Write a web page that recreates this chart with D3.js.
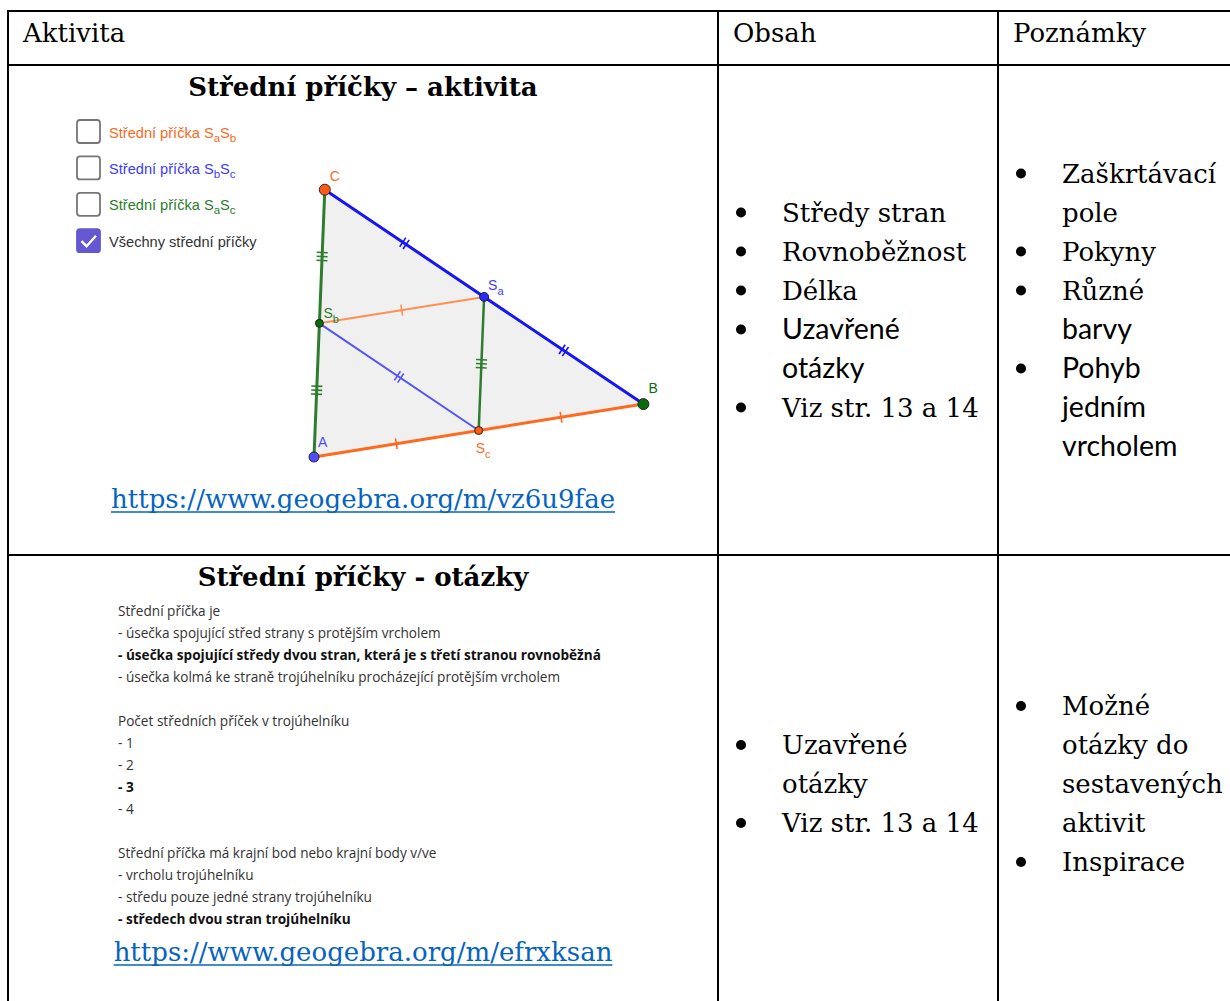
<!DOCTYPE html>
<html>
<head>
<meta charset="utf-8">
<script src="https://cdn.jsdelivr.net/npm/d3@7"></script>
<style>
html,body{margin:0;padding:0;background:#fff;}
svg{display:block;}
</style>
</head>
<body>
<svg id="c" width="1230" height="1001"></svg>
<script>
// ---------- data ----------
const headers = ["Aktivita", "Obsah", "Poznámky"];
const titles = ["Střední příčky – aktivita", "Střední příčky - otázky"];
const links = ["https://www.geogebra.org/m/vz6u9fae", "https://www.geogebra.org/m/efrxksan"];
// each item = list of [text, font] lines ; font s = serif, c = sans
const obsah1 = [
  [["Středy stran","s"]],
  [["Rovnoběžnost","s"]],
  [["Délka","s"]],
  [["Uzavřené","c"],["otázky","c"]],
  [["Viz str. 13 a 14","s"]]
];
const poznamky1 = [
  [["Zaškrtávací","s"],["pole","s"]],
  [["Pokyny","s"]],
  [["Různé","s"],["barvy","c"]],
  [["Pohyb","c"],["jedním","c"],["vrcholem","c"]]
];
const obsah2 = [
  [["Uzavřené","s"],["otázky","s"]],
  [["Viz str. 13 a 14","s"]]
];
const poznamky2 = [
  [["Možné","s"],["otázky do","s"],["sestavených","s"],["aktivit","s"]],
  [["Inspirace","s"]]
];
const questionLines = [
  ["Střední příčka je", false],
  ["- úsečka spojující střed strany s protějším vrcholem", false],
  ["- úsečka spojující středy dvou stran, která je s třetí stranou rovnoběžná", true],
  ["- úsečka kolmá ke straně trojúhelníku procházející protějším vrcholem", false],
  ["", false],
  ["Počet středních příček v trojúhelníku", false],
  ["- 1", false],
  ["- 2", false],
  ["- 3", true],
  ["- 4", false],
  ["", false],
  ["Střední příčka má krajní bod nebo krajní body v/ve", false],
  ["- vrcholu trojúhelníku", false],
  ["- středu pouze jedné strany trojúhelníku", false],
  ["- středech dvou stran trojúhelníku", true]
];
const checkboxLabels = ["Střední příčka S_aS_b", "Střední příčka S_bS_c", "Střední příčka S_aS_c", "Všechny střední příčky"];
const checkboxChecked = [false, false, false, true];
const checkboxColors = ["#f76a25", "#3b3bff", "#2b7d2b", "#333333"];
// triangle vertices in figure units
const vertices = {A: [0, 0], B: [6.1, 0.98], C: [0.2, 4.95]};

// ---------- layout ----------
const svg = d3.select("#c");
const serif = "'DejaVu Serif', serif";
const sans = "Lato, 'Open Sans', sans-serif";
const colX = [8, 718, 998, 1245];
const rowY = [11, 65, 555, 1013];
const LH = 39;

// table lines
const g = svg.append("g");
rowY.slice(0,3).forEach(y => g.append("line").attr("x1", colX[0]-1).attr("x2", colX[3]).attr("y1", y).attr("y2", y)
  .attr("stroke", "#000").attr("stroke-width", 2));
colX.slice(0,3).forEach(x => g.append("line").attr("x1", x).attr("x2", x).attr("y1", rowY[0]-1).attr("y2", rowY[3])
  .attr("stroke", "#000").attr("stroke-width", 2));

// headers
headers.forEach((h, i) => svg.append("text").attr("x", colX[i] + 15).attr("y", 42)
  .attr("font-family", serif).attr("font-size", 26).attr("fill", "#000").text(h));

// titles & links
const cx0 = (colX[0] + colX[1]) / 2;
[96, 586].forEach((y, i) => svg.append("text").attr("x", cx0).attr("y", y).attr("text-anchor", "middle")
  .attr("font-family", serif).attr("font-weight", "bold").attr("font-size", 26).attr("fill", "#000").text(titles[i]));
[508, 961].forEach((y, i) => {
  const t = svg.append("text").attr("x", cx0).attr("y", y).attr("text-anchor", "middle")
    .attr("font-family", serif).attr("font-size", 26).attr("fill", "#0563c1").text(links[i]);
  const w = t.node().getComputedTextLength();
  svg.append("line").attr("x1", cx0 - w/2).attr("x2", cx0 + w/2).attr("y1", y + 4).attr("y2", y + 4)
    .attr("stroke", "#0563c1").attr("stroke-width", 1.6);
});

// bullet lists
function bulletList(items, col, rowIdx) {
  const n = d3.sum(items, d => d.length);
  const center = (rowY[rowIdx] + rowY[rowIdx+1]) / 2;
  let y = center + 9 - (n - 1) * LH / 2;
  const bx = colX[col] + 23, tx = colX[col] + 64;
  items.forEach(item => {
    svg.append("circle").attr("cx", bx).attr("cy", y - 9).attr("r", 5).attr("fill", "#000");
    item.forEach(([t, f]) => {
      svg.append("text").attr("x", tx).attr("y", y)
        .attr("font-family", f === "s" ? serif : sans)
        .attr("font-size", f === "s" ? 26 : 28.5).attr("fill", "#000").text(t);
      y += LH;
    });
  });
}
bulletList(obsah1, 1, 1);
bulletList(poznamky1, 2, 1);
bulletList(obsah2, 1, 2);
bulletList(poznamky2, 2, 2);

// question block
const qy = d3.scaleLinear().domain([0, 1]).range([616, 638]);
svg.append("g").selectAll("text").data(questionLines).join("text")
  .attr("x", 118).attr("y", (d, i) => qy(i))
  .attr("font-family", "'Open Sans', sans-serif").attr("font-size", 13.6)
  .attr("font-weight", d => d[1] ? 700 : 400)
  .attr("fill", d => d[1] ? "#111" : "#333").text(d => d[0]);

// checkboxes
const cby = d3.scaleLinear().domain([0, 1]).range([120, 156.4]);
checkboxLabels.forEach((lab, i) => {
  const y0 = cby(i);
  svg.append("rect").attr("x", 77).attr("y", y0).attr("width", 23).attr("height", 23).attr("rx", 3)
    .attr("fill", checkboxChecked[i] ? "#6557d2" : "#fff")
    .attr("stroke", checkboxChecked[i] ? "#6557d2" : "#777").attr("stroke-width", 1.8);
  if (checkboxChecked[i]) {
    svg.append("polyline").attr("points", [[81.5, y0+12], [86.5, y0+17], [96, y0+6.5]].join(" "))
      .attr("fill", "none").attr("stroke", "#fff").attr("stroke-width", 2.4);
  }
  const t = svg.append("text").attr("x", 109).attr("y", y0 + 17.5)
    .attr("font-family", "'Liberation Sans', Arial, sans-serif").attr("font-size", 14.6)
    .attr("fill", checkboxColors[i]);
  const parts = lab.split(/(_[a-z])/).filter(p => p.length);
  parts.forEach((p, j) => {
    if (p[0] === "_") t.append("tspan").attr("dy", 4).attr("font-size", 11.5).text(p[1]);
    else t.append("tspan").attr("dy", j ? -4 : 0).text(p);
  });
});

// ---------- triangle figure ----------
const sx = d3.scaleLinear().domain([0, 1]).range([314, 368]);
const sy = d3.scaleLinear().domain([0, 1]).range([457, 403]);
const P = k => [sx(vertices[k][0]), sy(vertices[k][1])];
const A = P("A"), B = P("B"), C = P("C");
const mid = (p, q) => [(p[0]+q[0])/2, (p[1]+q[1])/2];
const Sa = mid(B, C), Sb = mid(A, C), Sc = mid(A, B);

svg.append("path").attr("d", d3.line()([A, B, C]) + "Z").attr("fill", "#f0f0f0").attr("stroke", "none");

const segs = [
  {p: Sb, q: Sa, c: "#ff8f55", w: 2, ticks: [[0.5, 1]]},
  {p: Sb, q: Sc, c: "#5555f5", w: 2, ticks: [[0.5, 2]]},
  {p: Sc, q: Sa, c: "#2e7d2e", w: 2.5, ticks: [[0.5, 3]]},
  {p: A, q: B, c: "#ff6a1f", w: 3, ticks: [[0.25, 1], [0.75, 1]]},
  {p: C, q: B, c: "#1515f5", w: 3, ticks: [[0.25, 2], [0.75, 2]]},
  {p: A, q: C, c: "#2e7d2e", w: 3, ticks: [[0.25, 3], [0.75, 3]]}
];
segs.forEach(s => {
  svg.append("line").attr("x1", s.p[0]).attr("y1", s.p[1]).attr("x2", s.q[0]).attr("y2", s.q[1])
    .attr("stroke", s.c).attr("stroke-width", s.w).attr("stroke-linecap", "round");
  const dx = s.q[0]-s.p[0], dy = s.q[1]-s.p[1], L = Math.hypot(dx, dy);
  const ux = dx/L, uy = dy/L, nx = -uy, ny = ux;
  s.ticks.forEach(([f, k]) => {
    const m = [s.p[0] + dx*f, s.p[1] + dy*f];
    for (let j = 0; j < k; j++) {
      const off = (j - (k-1)/2) * 4;
      const c0 = [m[0] + ux*off, m[1] + uy*off];
      svg.append("line").attr("x1", c0[0] - nx*5.5).attr("y1", c0[1] - ny*5.5)
        .attr("x2", c0[0] + nx*5.5).attr("y2", c0[1] + ny*5.5)
        .attr("stroke", s.c).attr("stroke-width", 1.6);
    }
  });
});

const pts = [
  {p: A, f: "#4d4dff", r: 5, name: "A", sub: "", lc: "#4d4dff", dx: 4, dy: -10},
  {p: B, f: "#0b6b0b", r: 5.5, name: "B", sub: "", lc: "#0b6b0b", dx: 5, dy: -11},
  {p: C, f: "#ff5a14", r: 5.5, name: "C", sub: "", lc: "#ff6a1f", dx: 5, dy: -9},
  {p: Sa, f: "#2a2aff", r: 4.5, name: "S", sub: "a", lc: "#3b3bff", dx: 4, dy: -7},
  {p: Sb, f: "#0b6b0b", r: 4, name: "S", sub: "b", lc: "#2b7d2b", dx: 4, dy: -5},
  {p: Sc, f: "#ff5a14", r: 4, name: "S", sub: "c", lc: "#ff6a1f", dx: -3, dy: 22}
];
pts.forEach(d => {
  svg.append("circle").attr("cx", d.p[0]).attr("cy", d.p[1]).attr("r", d.r)
    .attr("fill", d.f).attr("stroke", "#1a1a1a").attr("stroke-width", 0.9);
  const t = svg.append("text").attr("x", d.p[0] + d.dx).attr("y", d.p[1] + d.dy)
    .attr("font-family", "'Liberation Sans', Arial, sans-serif").attr("font-size", 14).attr("fill", d.lc).text(d.name);
  if (d.sub) t.append("tspan").attr("dy", 5).attr("font-size", 11).text(d.sub);
});
</script>
</body>
</html>
